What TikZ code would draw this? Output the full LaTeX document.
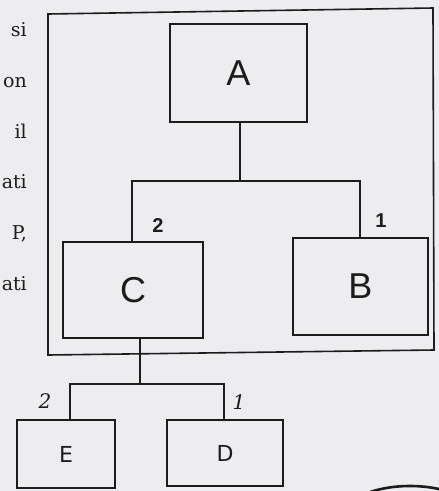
\documentclass[tikz,border=0pt]{standalone}
\usepackage{fontspec}
\setmainfont{DejaVu Serif}
\newfontfamily\boxfont{Liberation Sans}
\newfontfamily\handfont{DejaVu Sans}
\definecolor{paper}{RGB}{237,237,240}
\definecolor{ink}{RGB}{28,28,28}
\begin{document}
\begin{tikzpicture}[x=1pt,y=-1pt,
  ln/.style={draw=ink,line width=1.6pt},
  boxnode/.style={ln,fill=paper,inner sep=0pt,text=ink,font=\boxfont\fontsize{36}{36}\selectfont},
  smallbox/.style={ln,fill=paper,inner sep=0pt,text=ink,font=\handfont\fontsize{22}{22}\selectfont},
  sidetxt/.style={inner sep=0pt,text=ink,font=\fontsize{19}{19}\selectfont,anchor=base east},
  numlbl/.style={inner sep=0pt,text=ink,font=\boxfont\bfseries\fontsize{20}{20}\selectfont},
  handlbl/.style={inner sep=0pt,text=ink,font=\itshape\fontsize{20}{20}\selectfont}]
\fill[paper] (0,0) rectangle (439,491);
\useasboundingbox (0,0) rectangle (439,491);
\clip (0,0) rectangle (439,491);
% side text fragments
\node[sidetxt] (t1) at (27,36) {si};
\node[sidetxt] (t2) at (27,87) {on};
\node[sidetxt] (t3) at (27,138) {il};
\node[sidetxt] (t4) at (27,188) {ati};
\node[sidetxt] (t5) at (27,239) {P,};
\node[sidetxt] (t6) at (27,290) {ati};
% outer frame
\draw[ln] (48,14) -- (433,8) -- (434,350) -- (48,355) -- cycle;
% boxes
\node[boxnode,minimum width=137pt,minimum height=98pt] (A) at (238.5,73) {A};
\node[boxnode,minimum width=140pt,minimum height=96pt] (C) at (133,290) {C};
\node[boxnode,minimum width=135pt,minimum height=97pt] (B) at (360.5,286.5) {B};
\node[smallbox,minimum width=98pt,minimum height=68pt] (E) at (66,454) {E};
\node[smallbox,minimum width=116pt,minimum height=66pt] (D) at (225,453) {D};
% connectors
\coordinate (j1) at (240,181);
\draw[ln] ([xshift=1.5pt]A.south) -- (j1);
\draw[ln] ([xshift=-1pt]C.north) |- (j1) -| ([xshift=-0.5pt]B.north);
\coordinate (j2) at (140,384);
\draw[ln] ([xshift=7pt]C.south) -- (j2);
\draw[ln] ([xshift=4pt]E.north) |- (j2) -| ([xshift=-1pt]D.north);
% labels
\node[numlbl] (l2) at (158,226) {2};
\node[numlbl] (l1) at (381,221) {1};
\node[handlbl] (h2) at (45,401) {2};
\node[handlbl] (h1) at (239,402) {1};
% partial circle at bottom right
\draw[draw=ink,line width=2.6pt] (410,522) ellipse [x radius=72pt,y radius=36pt];
\end{tikzpicture}
\end{document}
